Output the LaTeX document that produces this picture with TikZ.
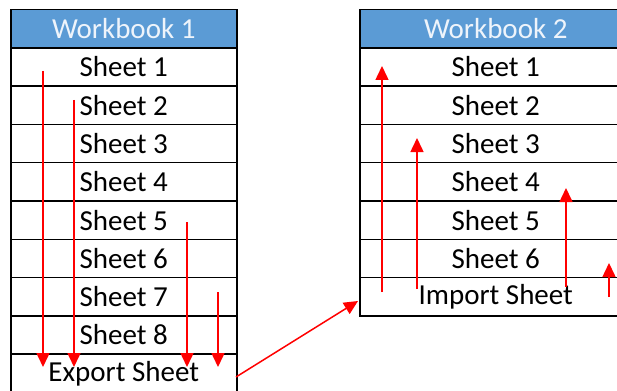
\documentclass[tikz,border=0pt]{standalone}
\usepackage{fontspec}
\setmainfont{Carlito}
\usetikzlibrary{arrows.meta}
\definecolor{headblue}{HTML}{5B9BD5}
\definecolor{arrowred}{HTML}{FF0000}
\definecolor{headtext}{HTML}{EEF4FB}
\tikzset{
  cell/.style={draw=black, line width=1.5pt, rectangle, inner sep=0pt,
    minimum height=38.3pt, anchor=north west,
    font=\fontsize{29}{32}\selectfont, text=black},
  headcell/.style={cell, fill=headblue, text=headtext},
  flow/.style={draw=arrowred, line width=1.5pt,
    -{Triangle[width=13pt,length=14pt]}}
}
\begin{document}
\begin{tikzpicture}[x=1pt,y=-1pt]
\useasboundingbox (0,0) rectangle (617,390);
\clip (0,0) rectangle (617,390);

% Workbook 1
\node[headcell, minimum width=226pt] (wa0) at (10,9) {Workbook 1};
\foreach \i/\t in {1/Sheet 1,2/Sheet 2,3/Sheet 3,4/Sheet 4,5/Sheet 5,6/Sheet 6,7/Sheet 7,8/Sheet 8,9/Export Sheet}
  \node[cell, minimum width=226pt] (wa\i) at (10,{47+38.3*(\i-1)}) {\t};

% Workbook 2
\node[headcell, minimum width=272pt] (wb0) at (359,9) {Workbook 2};
\foreach \i/\t in {1/Sheet 1,2/Sheet 2,3/Sheet 3,4/Sheet 4,5/Sheet 5,6/Sheet 6,7/Import Sheet}
  \node[cell, minimum width=272pt] (wb\i) at (359,{47+38.3*(\i-1)}) {\t};

% export flows
\coordinate (e1s) at (43,71);   \coordinate (e1t) at (43,367);
\coordinate (e2s) at (74,100);  \coordinate (e2t) at (74,367);
\coordinate (e3s) at (187,222); \coordinate (e3t) at (187,367);
\coordinate (e4s) at (218,292); \coordinate (e4t) at (218,367);
\foreach \k in {1,2,3,4} \draw[flow] (e\k s) -- (e\k t);

% transfer between workbooks
\coordinate (xs) at (236,377);
\coordinate (xt) at (358,301);
\draw[flow] (xs) -- (xt);

% import flows
\coordinate (i1s) at (382,292); \coordinate (i1t) at (382,66);
\coordinate (i2s) at (417,289); \coordinate (i2t) at (417,138);
\coordinate (i3s) at (566,287); \coordinate (i3t) at (566,188);
\coordinate (i4s) at (609,297); \coordinate (i4t) at (609,263);
\foreach \k in {1,2,3,4} \draw[flow] (i\k s) -- (i\k t);
\end{tikzpicture}
\end{document}
